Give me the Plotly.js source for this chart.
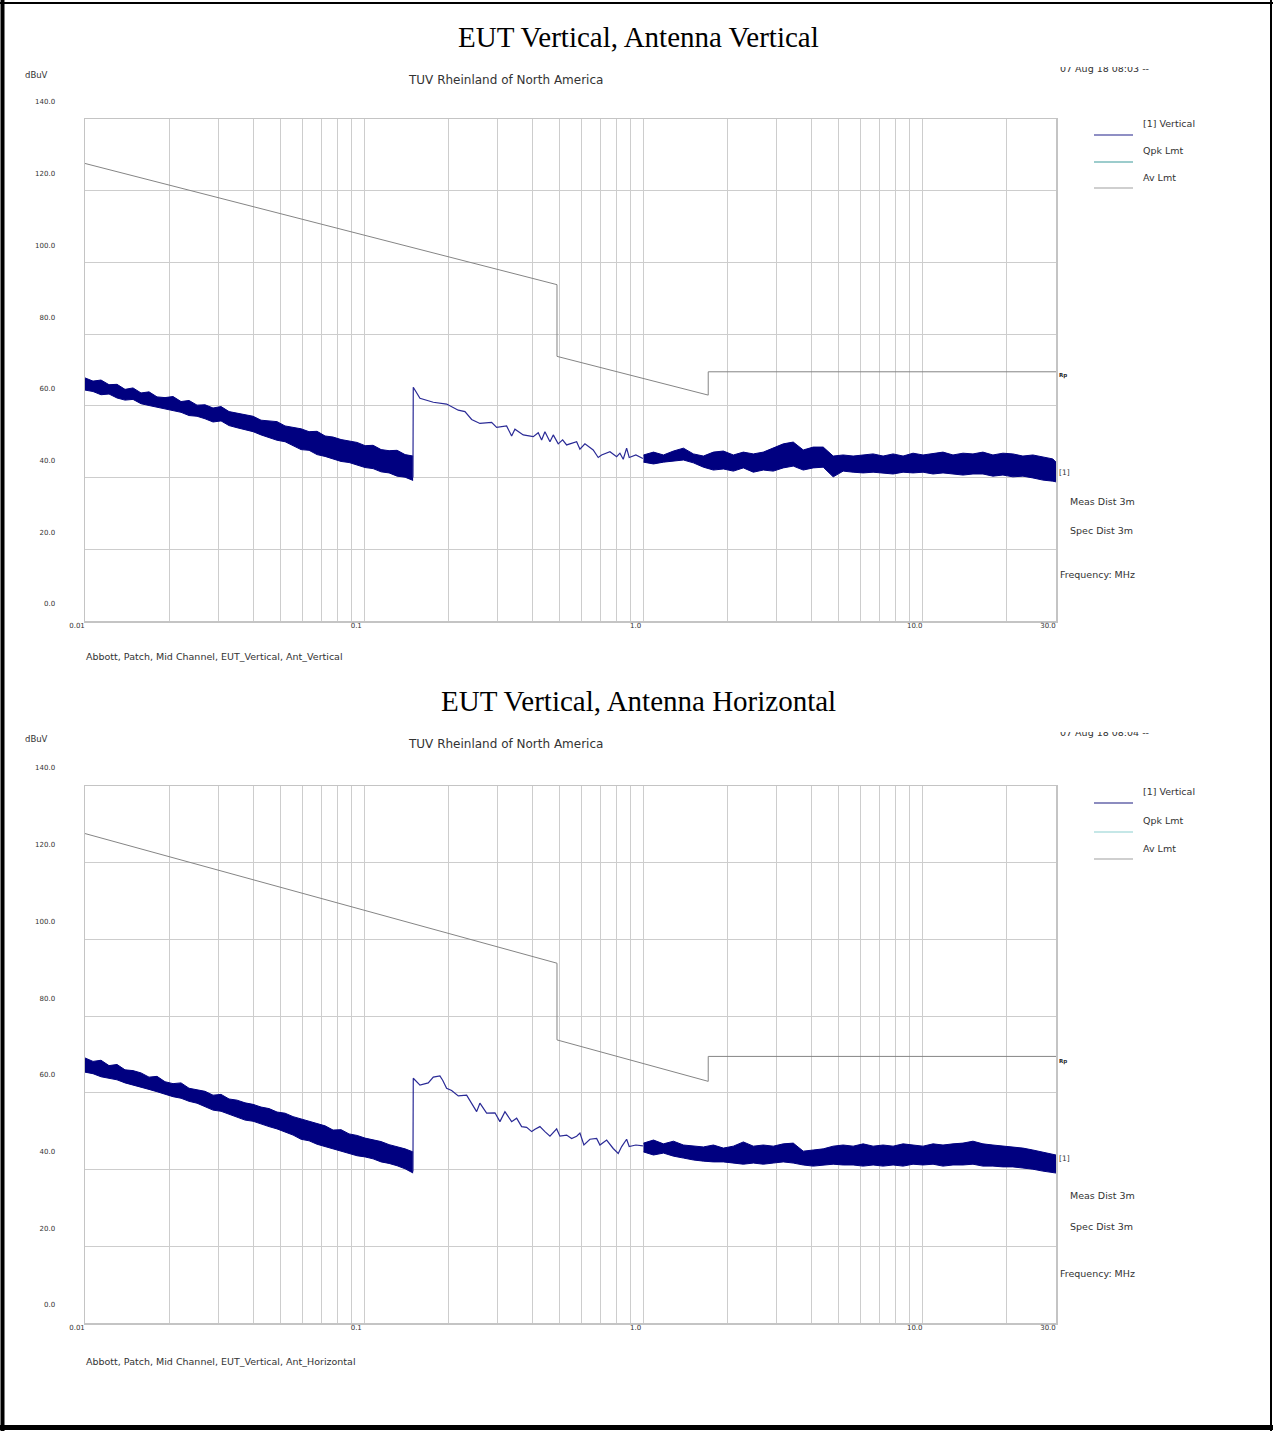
<!DOCTYPE html>
<html>
<head>
<meta charset="utf-8">
<script src="https://cdn.plot.ly/plotly-3.0.1.min.js"></script>
<style>html,body{margin:0;padding:0;background:#fff;}#chart{width:1273px;height:1431px;}</style>
</head>
<body>
<div id="chart"></div>
<script>
// ---------------- DATA ----------------
const panelTitles = ["EUT Vertical, Antenna Vertical", "EUT Vertical, Antenna Horizontal"];
const footers = ["Abbott, Patch, Mid Channel, EUT_Vertical, Ant_Vertical", "Abbott, Patch, Mid Channel, EUT_Vertical, Ant_Horizontal"];
const dateTexts = ["07 Aug 18 08:03 --", "07 Aug 18 08:04 --"];
const legendNames = ["[1] Vertical", "Qpk Lmt", "Av Lmt"];

const yTickVals = [0, 20, 40, 60, 80, 100, 120, 140];
const yTickText = ["0.0", "20.0", "40.0", "60.0", "80.0", "100.0", "120.0", "140.0"];
const xGridVals = [0.01,0.02,0.03,0.04,0.05,0.06,0.07,0.08,0.09,0.1,0.2,0.3,0.4,0.5,0.6,0.7,0.8,0.9,1,2,3,4,5,6,7,8,9,10,20,30];
const xLabelMap = {"0.01":"0.01","0.1":"0.1","1":"1.0","10":"10.0","30":"30.0"};

// Av limit (MHz, dBuV)
const limFreq = [0.01, 0.49, 0.49, 1.705, 1.705, 30];
const avLmt = [127.6, 93.8, 73.8, 63.0, 69.5, 69.5];

// low-frequency noisy band: sweep frequencies (MHz), upper / lower edge of trace (dBuV)
const fA = [0.01,0.010682,0.011411,0.012189,0.013020,0.013909,0.014857,0.015871,0.016953,0.018110,
            0.019345,0.020664,0.022074,0.023579,0.025188,0.026905,0.028741,0.030701,0.032795,0.035032,
            0.037421,0.039973,0.042700,0.045612,0.048723,0.052047,0.055597,0.059389,0.063440,0.067767,
            0.072389,0.077327,0.082601,0.088235,0.094253,0.100682,0.107549,0.114885,0.122721,0.131092,
            0.140033,0.149584];
const hiA1 = [67.8,66.9,67.2,65.9,66.0,64.6,65.0,63.6,63.9,62.5,62.3,62.6,61.2,61.5,60.2,60.3,59.4,59.8,58.4,58.0,
              57.6,57.1,56.0,55.8,55.6,54.4,54.0,53.6,52.8,52.9,51.6,51.3,50.6,50.1,49.8,48.9,49.0,47.8,47.5,47.6,46.4,46.0];
const loA1 = [64.4,64.0,63.1,63.3,62.2,61.6,61.8,60.6,60.1,59.6,59.0,58.7,58.2,57.3,57.1,56.4,55.5,55.8,54.5,53.9,
              53.3,52.8,51.9,51.2,50.4,50.0,48.9,47.8,47.6,46.4,45.9,45.3,44.5,44.2,43.4,42.8,42.5,41.6,41.3,40.4,40.1,39.2];
const hiA2 = [69.1,68.2,68.5,67.1,67.4,66.0,65.8,65.2,64.1,64.3,62.9,62.4,62.6,61.2,60.8,60.4,59.4,59.6,58.4,58.1,
              57.4,57.0,56.3,55.9,55.0,54.7,53.8,53.2,52.6,51.9,51.4,50.3,50.4,49.3,48.9,48.2,47.8,47.3,46.5,46.0,45.4,44.6];
const loA2 = [65.4,65.0,64.2,63.8,63.4,62.6,62.1,61.5,60.9,60.3,59.6,59.0,58.6,57.8,57.3,56.4,55.5,55.2,54.4,53.6,
              52.9,52.6,51.8,51.2,50.6,49.8,49.0,47.9,47.5,46.6,46.0,45.4,45.0,44.3,43.6,43.3,42.8,42.0,41.6,41.0,40.2,39.1];

// mid-band single trace
const fB1 = [0.1494,0.1498,0.1583,0.1767,0.1972,0.2171,0.2294,0.2424,0.2595,0.2858,0.2979,0.3234,0.3371,0.3464,0.3710,0.4029,0.4198,0.4317,0.4436,0.4624,0.4751,0.4950,0.5133,0.5305,0.5761,0.5920,0.6169,0.6605,0.6883,0.7079,0.7582,0.8012,0.8233,0.8460,0.8700,0.8888,0.939,0.995];
const vB1 = [40.0,65.2,62.1,61.0,60.5,58.8,58.4,56.2,55.1,55.4,54.0,54.4,51.6,53.5,51.9,51.4,52.5,50.5,52.8,50.0,51.9,49.4,50.5,49.1,50.0,47.9,49.4,47.7,45.6,46.3,47.2,45.8,46.8,45.1,48.2,45.6,46.3,45.3];
const fB2 = [0.1494,0.1498,0.1583,0.1695,0.1767,0.1866,0.1909,0.1972,0.2055,0.2171,0.2326,0.2526,0.2595,0.2743,0.2938,0.3061,0.3190,0.3371,0.3513,0.3661,0.3815,0.3977,0.4087,0.4257,0.4436,0.4624,0.4886,0.5020,0.5305,0.5528,0.5761,0.5920,0.6117,0.6428,0.6794,0.6982,0.7378,0.7790,0.8119,0.8352,0.8700,0.8888,0.939,0.995];
const vB2 = [39.5,63.8,62.0,62.6,64.1,64.4,63.3,61.2,60.6,59.2,59.4,55.1,57.3,54.7,54.8,52.5,55.1,52.5,53.4,51.2,51.0,49.9,50.5,51.2,49.9,48.7,50.6,48.7,49.0,48.1,48.7,49.5,46.4,47.9,48.1,46.4,47.7,45.5,44.2,46.0,47.9,46.0,46.4,46.2];

// high-frequency noisy band
const fC = [1.0,1.0858,1.1790,1.2801,1.3900,1.5092,1.6387,1.7793,1.9320,2.0978,
            2.2778,2.4732,2.6854,2.9158,3.1660,3.4377,3.7326,4.0529,4.4006,4.7782,
            5.1882,5.6334,6.1167,6.6416,7.2114,7.8302,8.5020,9.2315,10.024,10.884,
            11.817,12.831,13.932,15.128,16.426,17.835,19.365,21.027,22.831,24.790,
            26.917,29.226,30];
const hiC1 = [46.3,47.1,46.3,47.4,48.2,46.6,46.0,47.1,47.4,46.3,47.1,46.6,47.1,48.2,49.4,49.9,47.7,48.5,48.5,46.0,
              46.3,46.0,46.3,46.6,46.0,46.6,46.0,46.8,46.3,46.6,47.1,46.3,46.8,46.6,47.1,46.3,46.8,46.6,46.0,46.3,
              45.7,45.2,44.3];
const loC1 = [44.3,43.8,44.3,44.6,44.9,44.1,42.9,42.1,42.4,41.8,42.7,41.5,42.1,41.8,42.7,43.2,42.1,42.7,42.9,40.2,
              41.8,41.5,41.3,41.5,41.3,41.0,41.5,41.3,41.5,41.0,41.3,41.0,40.7,41.0,41.0,40.4,40.7,40.2,40.4,39.9,
              39.3,39.0,38.8];
const hiC2 = [46.9,47.7,46.7,47.4,46.4,46.1,45.9,46.4,45.6,46.1,47.2,46.1,46.4,46.1,46.7,46.9,44.8,45.1,45.4,46.1,
              46.4,46.1,46.7,46.1,46.4,46.1,46.7,46.4,46.1,46.7,46.4,46.7,46.9,47.4,46.7,46.4,46.1,45.9,45.6,45.1,
              44.6,44.1,43.8];
const loC2 = [44.6,43.8,44.3,43.5,43.0,42.5,42.2,42.0,42.0,41.7,41.4,41.7,41.4,41.7,42.0,41.7,41.2,40.9,41.2,41.4,
              41.2,41.2,40.9,41.2,40.9,41.2,40.9,41.4,41.2,41.4,40.9,41.2,41.2,41.4,40.9,40.9,40.7,40.7,40.4,40.1,
              39.6,39.1,39.1];

// ---------------- BUILD ----------------
const W = 1273, H = 1431;
const PX = x => x / W;
const PY = y => 1 - y / H;
const NAVY = '#000080', LIMC = '#858585', GRID = '#cdcdcd', TXT = '#333333';
const SANS = 'DejaVu Sans';

const panels = [
  {top:119, bottom:621, titleY:37, dbY:75, tuvY:80, dateY:68, legY:[124,151,177], legLineY:[135,162,188], legCol:['#20208a','#3a9a9a','#a0a0a0'],
   rpY:375, oneY:473, measY:501, specY:530, freqY:574, footY:656, shiftY:-17,
   sets:{hiA:hiA1, loA:loA1, fB:fB1, vB:vB1, hiC:hiC1, loC:loC1}},
  {top:786, bottom:1323, titleY:701, dbY:739, tuvY:744, dateY:732, legY:[791,820,848], legLineY:[803,832,859], legCol:['#1a1a80','#8ccfcf','#a0a0a0'],
   rpY:1061, oneY:1158, measY:1195, specY:1226, freqY:1273, footY:1361, shiftY:-18,
   sets:{hiA:hiA2, loA:loA2, fB:fB2, vB:vB2, hiC:hiC2, loC:loC2}}
];

const data = [];
const layout = {
  width: W, height: H, margin:{l:0,r:0,t:0,b:0}, paper_bgcolor:'#fff', plot_bgcolor:'#fff',
  showlegend:false, annotations:[], shapes:[], font:{family:SANS, color:TXT}
};

const xTickText = xGridVals.map(v => xLabelMap[String(v)] || '');

panels.forEach((p, i) => {
  const xa = i === 0 ? 'x' : 'x2', ya = i === 0 ? 'y' : 'y2';
  const xk = i === 0 ? 'xaxis' : 'xaxis2', yk = i === 0 ? 'yaxis' : 'yaxis2';
  layout[xk] = {
    type:'log', range:[Math.log10(0.01), Math.log10(30)], domain:[PX(85), PX(1056)], anchor:ya,
    tickmode:'array', tickvals:xGridVals, ticktext:xTickText, ticks:'', showgrid:true, gridcolor:GRID, gridwidth:1,
    showline:true, mirror:true, linecolor:'#c4c4c4', linewidth:1.5, zeroline:false, fixedrange:true, automargin:false,
    tickfont:{family:SANS, size:7, color:TXT}, ticklabelshift:-8, ticklabelstandoff:-3
  };
  layout[yk] = {
    range:[0,140], domain:[PY(p.bottom), PY(p.top)], anchor:xa,
    tickmode:'array', tickvals:yTickVals, ticktext:yTickText, ticks:'', showgrid:true, gridcolor:GRID, gridwidth:1,
    showline:true, mirror:true, linecolor:'#c4c4c4', linewidth:1.5, zeroline:false, fixedrange:true, automargin:false,
    tickfont:{family:SANS, size:7, color:TXT}, ticklabelshift:p.shiftY, ticklabelstandoff:27
  };
  const s = p.sets;
  data.push({x:limFreq, y:avLmt, xaxis:xa, yaxis:ya, mode:'lines', line:{color:LIMC, width:1}, name:'Av Lmt', hoverinfo:'skip'});
  data.push({x:fA, y:s.hiA, xaxis:xa, yaxis:ya, mode:'lines', line:{color:NAVY, width:1}, name:'[1] Vertical', hoverinfo:'skip'});
  data.push({x:fA, y:s.loA, xaxis:xa, yaxis:ya, mode:'lines', line:{color:NAVY, width:1}, fill:'tonexty', fillcolor:NAVY, name:'[1] Vertical', hoverinfo:'skip'});
  data.push({x:s.fB, y:s.vB, xaxis:xa, yaxis:ya, mode:'lines', line:{color:'#2a2a96', width:1.2}, name:'[1] Vertical', hoverinfo:'skip'});
  data.push({x:fC, y:s.hiC, xaxis:xa, yaxis:ya, mode:'lines', line:{color:NAVY, width:1}, name:'[1] Vertical', hoverinfo:'skip'});
  data.push({x:fC, y:s.loC, xaxis:xa, yaxis:ya, mode:'lines', line:{color:NAVY, width:1}, fill:'tonexty', fillcolor:NAVY, name:'[1] Vertical', hoverinfo:'skip'});

  const A = layout.annotations;
  const txt = (text, x, y, size, xanchor, opts) => A.push(Object.assign({text:text, xref:'paper', yref:'paper', x:PX(x), y:PY(y), xanchor:xanchor||'left', yanchor:'middle', showarrow:false, borderpad:0, font:{family:SANS, size:size, color:TXT}}, opts||{}));

  txt(panelTitles[i], 638, p.titleY, 29, 'center', {font:{family:'Liberation Serif', size:29, color:'#000'}});
  txt('dBuV', 24, p.dbY, 8.5);
  txt('TUV Rheinland of North America', 505, p.tuvY, 12, 'center');
  txt(dateTexts[i], 1059, p.dateY, 9.5);
  // clip the top of the date stamp (as in the scanned page)
  A.push({text:' ', xref:'paper', yref:'paper', x:PX(1045), y:PY(p.dateY - 0.5), xanchor:'left', yanchor:'bottom', showarrow:false, width:120, height:16, bgcolor:'#fff', borderpad:0, borderwidth:0});
  legendNames.forEach((n, k) => {
    txt(n, 1142, p.legY[k], 9.5);
    layout.shapes.push({type:'line', xref:'paper', yref:'paper', x0:PX(1094), x1:PX(1133), y0:PY(p.legLineY[k]), y1:PY(p.legLineY[k]), line:{color:p.legCol[k], width:1.2}});
  });
  txt('Rp', 1058, p.rpY, 5.5, 'left', {font:{family:SANS, size:5.5, color:'#222', weight:700}});
  txt('[1]', 1058, p.oneY, 7.5);
  txt('Meas Dist 3m', 1069, p.measY, 9.5);
  txt('Spec Dist 3m', 1069, p.specY, 9.5);
  txt('Frequency: MHz', 1059, p.freqY, 9.5);
  txt(footers[i], 85, p.footY, 9.5);
});

// page border
const bl = (x0,y0,x1,y1,w) => layout.shapes.push({type:'line', xref:'paper', yref:'paper', x0:PX(x0), y0:PY(y0), x1:PX(x1), y1:PY(y1), line:{color:'#000', width:w}});
bl(2.5, 0, 2.5, H, 4);
bl(0, 3, W, 3, 2);
bl(1271, 0, 1271, H, 2);
bl(0, 1427.5, W, 1427.5, 5);

Plotly.newPlot('chart', data, layout, {staticPlot:true, displayModeBar:false});
</script>
</body>
</html>
